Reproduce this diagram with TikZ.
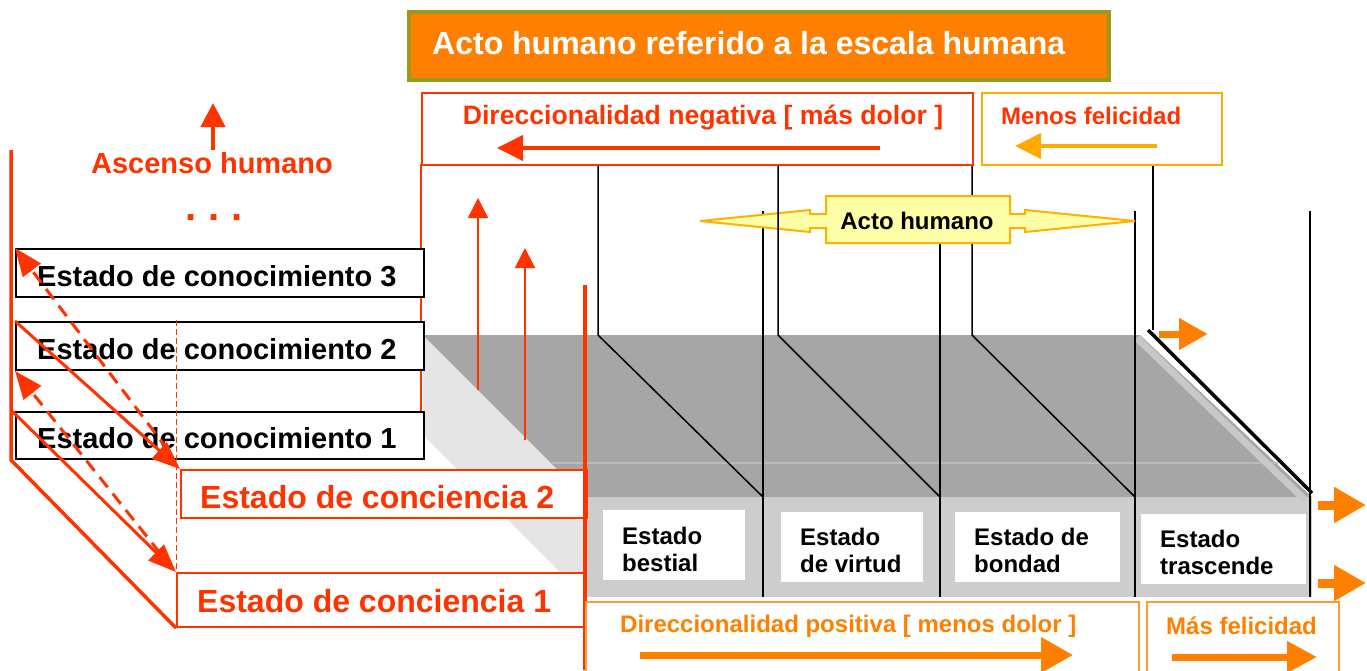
\documentclass[tikz,border=0pt]{standalone}
\usepackage{fontspec}
\setmainfont{Liberation Sans}
\usetikzlibrary{arrows.meta}
\definecolor{myred}{HTML}{FF3300}
\definecolor{myorange}{HTML}{FF8000}
\definecolor{lightor}{HTML}{FF9933}
\definecolor{goldor}{HTML}{FFAA00}
\definecolor{oliveb}{HTML}{9A9A1A}
\definecolor{callfill}{HTML}{FFFFA8}
\definecolor{callline}{HTML}{FFB000}
\definecolor{topgray}{HTML}{A6A6A6}
\definecolor{frontgray}{HTML}{CDCDCD}
\definecolor{sidegray}{HTML}{E5E5E5}
\definecolor{edgegray}{HTML}{C8C8C8}
\definecolor{seamgray}{HTML}{BBBBBB}
\begin{document}
\begin{tikzpicture}[x=1pt,y=-1pt,
  box/.style={anchor=north west, inner sep=0, rectangle},
  fA/.style={font=\fontsize{32}{36}\selectfont\bfseries},
  fB/.style={font=\fontsize{29}{33}\selectfont\bfseries},
  fC/.style={font=\fontsize{26.6}{30}\selectfont\bfseries},
  fD/.style={font=\fontsize{24}{27}\selectfont\bfseries},
  lab/.style={fD, inner sep=0, align=left, anchor=west},
  redtip/.style={-{Triangle[length=26pt,width=25pt]}},
  thintip/.style={-{Triangle[length=20pt,width=20pt]}},
  diagtip/.style={-{Triangle[length=28pt,width=22pt]}},
  blocktip/.style={-{Triangle[length=32pt,width=34pt]}},
  blacklin/.style={black, line width=1.5},
]
\useasboundingbox (0,0) rectangle (1367,670);

% ---------- platform ----------
\fill[sidegray] (423,335) -- (585,497) -- (585,597) -- (423,435) -- cycle;
\fill[topgray] (423,335) -- (1140,335) -- (1312,497) -- (585,497) -- cycle;
\fill[frontgray] (585,497) rectangle (1312,597);
\draw[seamgray, line width=2] (552,463) -- (1278,463);
\draw[edgegray, line width=7] (1137,338) -- (1306,501);

% white label boxes
\node[box, fill=white, minimum width=142, minimum height=70] (wb1) at (603,510) {};
\node[box, fill=white, minimum width=142, minimum height=70] (wb2) at (781,512) {};
\node[box, fill=white, minimum width=165, minimum height=70] (wb3) at (955,512) {};
\node[box, fill=white, minimum width=165, minimum height=70] (wb4) at (1141,514) {};
\node[lab] (t1) at (622,549) {Estado\\bestial};
\node[lab] (t2) at (800,550) {Estado\\de virtud};
\node[lab] (t3) at (974,550) {Estado de\\bondad};
\node[lab] (t4) at (1160,552) {Estado\\trascende};

% vertical black lines (behind callout)
\coordinate (v1t) at (763,211); \coordinate (v1b) at (763,597);
\coordinate (v2t) at (940,211); \coordinate (v2b) at (940,597);
\coordinate (v3t) at (1135,211); \coordinate (v3b) at (1135,597);
\coordinate (v4t) at (1310,211); \coordinate (v4b) at (1310,597);
\draw[blacklin] (v1t) -- (v1b);
\draw[blacklin] (v2t) -- (v2b);
\draw[blacklin] (v3t) -- (v3b);
\draw[blacklin] (v4t) -- (v4b);
\draw[blacklin] (972,164) -- (972,335) -- (1135,497);
\draw[blacklin] (1153,164) -- (1153,330);
\draw[black, line width=3.5] (1148,330) -- (1312,493);

% callout "Acto humano"
\draw[fill=callfill, draw=callline, line width=2]
  (826,196) -- (1010,196) -- (1010,214) -- (1025,214) -- (1025,210) -- (1135,221)
  -- (1025,232) -- (1025,228) -- (1010,228) -- (1010,243) -- (826,243) -- (826,228)
  -- (810,228) -- (810,232) -- (700,221) -- (810,210) -- (810,214) -- (826,214) -- cycle;
\node[fD, inner sep=0] (acto) at (917,221) {Acto humano};

\draw[blacklin] (598,164) -- (598,335) -- (763,497);
\draw[blacklin] (778,164) -- (778,335) -- (940,497);

% ---------- title ----------
\node[box, fill=myorange, draw=oliveb, line width=4, minimum width=700, minimum height=68] (title) at (407,10) {};
\node[fA, text=white, inner sep=0, anchor=west] (titletxt) at (432,43) {Acto humano referido a la escala humana};

% ---------- negative direction ----------
\node[box, draw=myred, line width=1.5, minimum width=551, minimum height=72] (neg) at (421,92) {};
\node[fC, text=myred, inner sep=0] (negtxt) at (703,118) {Direccionalidad negativa [ más dolor ]};
\coordinate (na1) at (880,148); \coordinate (na2) at (497,148);
\draw[myred, line width=4, redtip] (na1) -- (na2);

\node[box, draw=goldor, line width=1.5, minimum width=240, minimum height=72] (menos) at (981,92) {};
\node[fD, text=myred, inner sep=0, anchor=west] (menostxt) at (1001,116) {Menos felicidad};
\coordinate (ma1) at (1157,146); \coordinate (ma2) at (1015,146);
\draw[goldor, line width=4, redtip] (ma1) -- (ma2);

% red vertical guide at 421
\draw[myred, line width=1.5] (421,164) -- (421,458);

% red up arrows
\coordinate (u1a) at (478,390); \coordinate (u1b) at (478,198);
\coordinate (u2a) at (525,440); \coordinate (u2b) at (525,248);
\draw[myred, line width=2, thintip] (u1a) -- (u1b);
\draw[myred, line width=2, thintip] (u2a) -- (u2b);

% ---------- left side ----------
\coordinate (asA) at (213,150); \coordinate (asB) at (213,103);
\draw[myred, line width=4.5, -{Triangle[length=24pt,width=24pt]}] (asA) -- (asB);
\node[fB, text=myred, inner sep=0] (asc) at (212,163) {Ascenso humano};
\node[font=\fontsize{40}{44}\selectfont\bfseries, text=myred, inner sep=0, anchor=base] (dots) at (214,220) {.\hspace{12pt}.\hspace{12pt}.};

\node[box, fill=white, draw=black, line width=2, minimum width=408, minimum height=48] (k3) at (15,248) {};
\node[box, fill=white, draw=black, line width=2, minimum width=408, minimum height=48] (k2) at (15,321) {};
\node[box, fill=white, draw=black, line width=2, minimum width=408, minimum height=47] (k1) at (15,411) {};
\node[fB, inner sep=0, anchor=west] (k3t) at (37,276) {Estado de conocimiento 3};
\node[fB, inner sep=0, anchor=west] (k2t) at (37,349) {Estado de conocimiento 2};
\node[fB, inner sep=0, anchor=west] (k1t) at (37,438) {Estado de conocimiento 1};

\node[box, fill=white, draw=myred, line width=2, minimum width=406, minimum height=48] (c2) at (180,469) {};
\node[box, fill=white, draw=myred, line width=2, minimum width=407, minimum height=54] (c1) at (176,572) {};
\node[fA, text=myred, inner sep=0, anchor=west] (c2t) at (200,497) {Estado de conciencia 2};
\node[fA, text=myred, inner sep=0, anchor=west] (c1t) at (197,601) {Estado de conciencia 1};

% thin dashed vertical
\draw[myred, line width=1, dash pattern=on 6pt off 3pt] (176,320) -- (c1.south west);

% thick left line and diagonals
\coordinate (L1) at (11,150); \coordinate (L2) at (11,460);
\draw[myred, line width=3.5] (L1) -- (L2) -- (c1.south west);
\draw[myred, line width=3, diagtip] (11,410) -- (c1.north west);
\draw[myred, line width=3, diagtip] (k2.north west) -- (c2.north west);
\draw[myred, line width=3, dash pattern=on 13pt off 8pt, diagtip] (160,553) -- (k2.south west);
\draw[myred, line width=3, dash pattern=on 13pt off 8pt, diagtip] (168,450) -- (k3.north west);

% thick red vertical at 585
\draw[myred, line width=3.5] (585,285) -- (585,670);

% ---------- bottom orange ----------
\node[box, draw=lightor, line width=2, minimum width=553, minimum height=80] (pos) at (585,601) {};
\node[box, draw=lightor, line width=2, minimum width=192, minimum height=80] (mas) at (1146,601) {};
\node[fD, text=myorange, inner sep=0, anchor=west] (postxt) at (620,626) {Direccionalidad positiva [ menos dolor ]};
\node[fD, text=myorange, inner sep=0, anchor=west] (mastxt) at (1166,626) {Más felicidad};
\coordinate (pa1) at (640,655); \coordinate (pa2) at (1073,655);
\draw[myorange, line width=7, -{Triangle[length=32pt,width=34pt]}] (pa1) -- (pa2);
\coordinate (ma3) at (1172,657); \coordinate (ma4) at (1317,657);
\draw[myorange, line width=7, -{Triangle[length=30pt,width=30pt]}] (ma3) -- (ma4);

% block arrows right
\coordinate (b1a) at (1159,334); \coordinate (b1b) at (1208,334);
\draw[myorange, line width=7, -{Triangle[length=29pt,width=30pt]}] (b1a) -- (b1b);
\coordinate (b2a) at (1318,505); \coordinate (b2b) at (1366,505);
\draw[myorange, line width=9, blocktip] (b2a) -- (b2b);
\coordinate (b3a) at (1318,583); \coordinate (b3b) at (1366,583);
\draw[myorange, line width=9, blocktip] (b3a) -- (b3b);
\end{tikzpicture}
\end{document}
